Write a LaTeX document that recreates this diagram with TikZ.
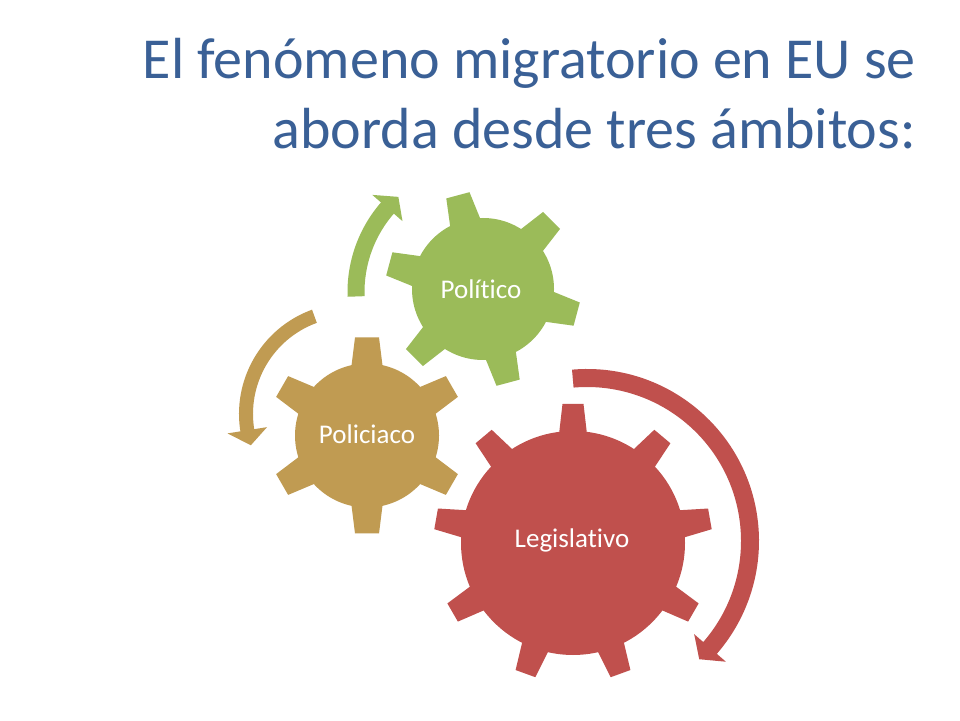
\documentclass[tikz,border=0pt]{standalone}
\usepackage{fontspec}
\setmainfont{Carlito}[Ligatures=NoCommon]
\definecolor{titleblue}{HTML}{3A6096}
\definecolor{legred}{HTML}{C0504D}
\definecolor{polgreen}{HTML}{9BBB59}
\definecolor{polgold}{HTML}{C09B52}
\tikzset{
  titletext/.style={anchor=base east, inner sep=0pt, text=titleblue, font=\fontsize{58}{70}\selectfont},
  gearlabel/.style={anchor=base, inner sep=0pt, text=white, font=\fontsize{27}{32}\selectfont},
}
\begin{document}
\begin{tikzpicture}[x=1pt,y=1pt]
\fill[white] (0,0) rectangle (960,720);
\useasboundingbox (0,0) rectangle (960,720);

% Title
\node[titletext] (t1) at (916,641) {El fenómeno migratorio en EU se};
\node[titletext] (t2) at (916,571) {aborda desde tres ámbitos:};

% Legislativo gear
\begin{scope}[shift={(573,177)}]
  \fill[legred] (0,0) circle[radius=112pt];
  \foreach \a in {90,130,...,410}
    \fill[legred, rotate=\a] (100pt,-15pt) -- (139pt,-10.5pt) -- (139pt,10.5pt) -- (100pt,15pt) -- cycle;
\end{scope}

% Policiaco gear
\begin{scope}[shift={(367,284.5)}]
  \fill[polgold] (0,0) circle[radius=72pt];
  \foreach \a in {90,150,...,390}
    \fill[polgold, rotate=\a] (62pt,-16.5pt) -- (98pt,-12pt) -- (98pt,12pt) -- (62pt,16.5pt) -- cycle;
\end{scope}

% Politico gear
\begin{scope}[shift={(483,431)}]
  \fill[polgreen] (0,0) circle[radius=71pt];
  \foreach \a in {105,165,...,405}
    \fill[polgreen, rotate=\a] (61pt,-16.5pt) -- (97pt,-12pt) -- (97pt,12pt) -- (61pt,16.5pt) -- cycle;
\end{scope}

% Red circular arrow
\begin{scope}[shift={(587,179)}]
  \fill[legred] (95:172pt) arc[start angle=95,end angle=-42,radius=172pt]
    -- (-42:154pt) arc[start angle=-42,end angle=95,radius=154pt] -- cycle;
  \fill[legred] (-41:142pt) -- (-41:184pt) -- (-46.5:163pt) -- cycle;
\end{scope}

% Gold circular arrow
\begin{scope}[shift={(350,306)}]
  \fill[polgold] (110:111pt) arc[start angle=110,end angle=190,radius=111pt]
    -- (190:97pt) arc[start angle=190,end angle=110,radius=97pt] -- cycle;
  \fill[polgold] (189:84pt) -- (189:124pt) -- (197.5:104pt) -- cycle;
\end{scope}

% Green circular arrow
\begin{scope}[shift={(484,428)}]
  \fill[polgreen] (182:136.5pt) arc[start angle=182,end angle=138,radius=136.5pt]
    -- (138:119.5pt) arc[start angle=138,end angle=182,radius=119.5pt] -- cycle;
  \fill[polgreen] (139:108pt) -- (139:148pt) -- (132:128pt) -- cycle;
\end{scope}

% Labels
\node[gearlabel] (leg) at (572,172) {Legislativo};
\node[gearlabel] (pol) at (367,276) {Policiaco};
\node[gearlabel] (polit) at (481,421.7) {Político};
\end{tikzpicture}
\end{document}
